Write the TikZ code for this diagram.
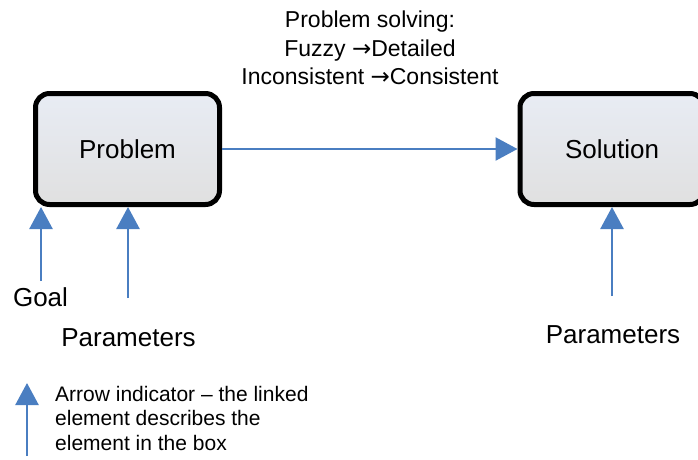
\documentclass[tikz,border=0pt]{standalone}
\usepackage{fontspec}
\setmainfont{Liberation Sans}
\newfontfamily\arrowfont{DejaVu Sans}
\usetikzlibrary{arrows.meta,positioning}
\definecolor{arrowblue}{RGB}{74,126,193}
\definecolor{boxtop}{RGB}{232,236,244}
\definecolor{boxbottom}{RGB}{224,224,224}
\tikzset{
    rounded-box/.style = {draw=black, line width=5pt, rectangle, rounded corners=14pt, top color=boxtop, bottom color=boxbottom, minimum width=184pt, minimum height=111pt, font=\fontsize{26}{30}\selectfont},
    blue-arrow/.style = {draw=arrowblue, line width=2.5pt, -{Triangle[length=22pt,width=23pt]}},
    big-label/.style = {font=\fontsize{26}{30}\selectfont, inner sep=0pt},
    note-text/.style = {align=left, inner sep=0pt, font=\fontsize{21}{24.5}\selectfont},
}
\newcommand{\toarrow}{{\arrowfont →}}

\begin{document}
\begin{tikzpicture}[x=1pt, y=-1pt]
\clip (0,0) rectangle (698,459);
\node [rounded-box] (problem) at (127.5,149) {Problem};
\node [rounded-box] (solution) at (612,149) {Solution};
\node [align=center, inner sep=0pt, font=\fontsize{23}{28.5}\selectfont] (solving) at (370,48) {Problem solving:\\Fuzzy \toarrow Detailed\\Inconsistent \toarrow Consistent};
\draw [blue-arrow] (problem) -- (solution);

% inputs of the problem
\node [big-label] (goal) at (40.5,297) {Goal};
\node [big-label] (problem-params) at (128.5,338) {Parameters};
\coordinate (goal-tail) at (41,281);
\coordinate (params-tail) at (128,298);
\draw [blue-arrow] (goal-tail) -- (goal-tail |- problem.south);
\draw [blue-arrow] (params-tail) -- (params-tail |- problem.south);

% input of the solution
\node [big-label] (solution-params) at (613,335) {Parameters};
\coordinate (solution-tail) at (612,296);
\draw [blue-arrow] (solution-tail) -- (solution-tail |- solution.south);

% legend
\coordinate (legend-tail) at (27,456);
\coordinate (legend-tip) at (27,383);
\draw [blue-arrow] (legend-tail) -- (legend-tip);
\node [note-text, anchor=north west] (legend) at (55,386) {Arrow indicator – the linked\\element describes the\\element in the box};
\end{tikzpicture}
\end{document}
